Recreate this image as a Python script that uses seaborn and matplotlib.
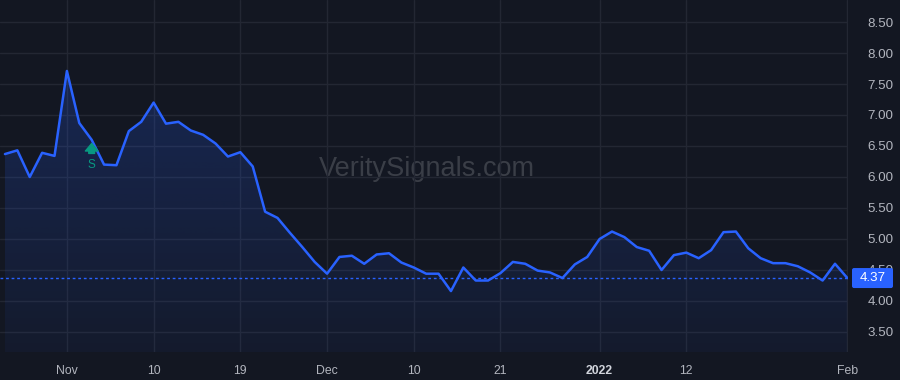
import numpy as np
import pandas as pd
import matplotlib
matplotlib.use("Agg")
import matplotlib.pyplot as plt
import matplotlib.patches as mpatches
from matplotlib.colors import to_rgb
import seaborn as sns

# trading-day closing values, Oct 25 2021 .. Feb 1 2022
prices = [6.37, 6.43, 6.00, 6.39, 6.34, 7.71, 6.87, 6.60, 6.20, 6.19,
          6.74, 6.89, 7.20, 6.86, 6.89, 6.75, 6.68, 6.54, 6.33, 6.40,
          6.17, 5.44, 5.34, 5.10, 4.87, 4.63, 4.44, 4.71, 4.73, 4.60,
          4.75, 4.77, 4.62, 4.54, 4.44, 4.44, 4.16, 4.54, 4.33, 4.33,
          4.45, 4.63, 4.60, 4.49, 4.46, 4.37, 4.59, 4.71, 5.00, 5.12,
          5.03, 4.87, 4.81, 4.50, 4.74, 4.78, 4.69, 4.82, 5.11, 5.12,
          4.85, 4.69, 4.61, 4.61, 4.56, 4.46, 4.33, 4.60, 4.37]
tick_idx = [5, 12, 19, 26, 33, 40, 48, 55, 68]
tick_labels = ["Nov", "10", "19", "Dec", "10", "21", "2022", "12", "Feb"]
y_ticks = [3.5, 4.0, 4.5, 5.0, 5.5, 6.0, 6.5, 7.0, 7.5, 8.0, 8.5]
signal_idx = 7
signal_label = "S"
last_price = prices[-1]

BG = "#131722"
GRID = "#232733"
LINE = "#2962FF"
TXT = "#b2b5be"

sns.set_theme(style="dark", rc={"axes.facecolor": BG, "figure.facecolor": BG})
plt.rcParams["font.family"] = ["Liberation Sans", "DejaVu Sans"]

df = pd.DataFrame({"idx": np.arange(len(prices)), "price": prices})

fig = plt.figure(figsize=(9, 3.8), dpi=100)
ax = fig.add_axes([0, 28 / 380, 848 / 900, 352 / 380])
ax.set_facecolor(BG)

XL = (-0.4, 68.05)
YL = (3.177, 8.855)
ax.set_xlim(*XL)
ax.set_ylim(*YL)

# gradient area fill under the line
poly = ax.fill_between(df["idx"], df["price"], YL[0], color="none", linewidth=0)
rgb = to_rgb(LINE)
ny = 256
grad = np.zeros((ny, 2, 4))
alphas = np.linspace(0.22, 0.05, ny)  # top -> bottom
grad[:, :, 0], grad[:, :, 1], grad[:, :, 2] = rgb
grad[:, :, 3] = alphas[:, None]
top = max(prices)
im = ax.imshow(grad, extent=[XL[0], XL[1], YL[0], top], aspect="auto", origin="upper", zorder=1)
clip = poly.get_paths()[0]
im.set_clip_path(clip, transform=ax.transData)

sns.lineplot(data=df, x="idx", y="price", ax=ax, color=LINE, linewidth=1.8, zorder=3)
ax.set_xlim(*XL)
ax.set_ylim(*YL)

ax.set_yticks(y_ticks)
ax.set_yticklabels([f"{v:.2f}" for v in y_ticks])
ax.yaxis.tick_right()
ax.set_xticks(tick_idx)
ax.set_xticklabels(tick_labels)
ax.tick_params(axis="y", length=0, colors=TXT, labelsize=9.6, pad=14)
ax.tick_params(axis="x", length=0, colors=TXT, labelsize=8.8, pad=9)
for lab in ax.get_xticklabels():
    if lab.get_text() == "2022":
        lab.set_fontweight("bold")
        lab.set_color("#d1d4dc")
ax.grid(True, color=GRID, linewidth=1)
ax.set_xlabel("")
ax.set_ylabel("")
for s in ax.spines.values():
    s.set_visible(False)
ax.axvline(XL[1], color="#2a2e39", linewidth=1, zorder=0)

# last price line and label
ax.axhline(last_price, color=LINE, linewidth=1, linestyle=(0, (2, 2)), zorder=2)
fig.canvas.draw()
px_y = ax.transData.transform((0, last_price))[1]
ax_right = ax.get_window_extent().x1
box = mpatches.FancyBboxPatch((ax_right + 4, px_y - 10), 41, 20,
                              boxstyle="round,pad=0,rounding_size=2",
                              transform=None, fc=LINE, ec="none", zorder=10)
fig.patches.append(box)
fig.text((ax_right + 24.5) / 900, px_y / 380, f"{last_price:.2f}", ha="center", va="center",
         color="white", fontsize=9.6, zorder=11)

# signal marker
sig_y = prices[signal_idx]
ax.annotate("", xy=(signal_idx, sig_y - 0.06), xytext=(signal_idx, sig_y - 0.22),
            arrowprops=dict(arrowstyle="simple,head_width=0.75,head_length=0.45,tail_width=0.35",
                            fc="#089981", ec="#089981", shrinkA=0, shrinkB=0), zorder=4)
ax.text(signal_idx, sig_y - 0.40, signal_label, color="#089981", fontsize=8.5,
        ha="center", va="center", zorder=4)

# watermark
ax.text(0.503, 0.52, "VeritySignals.com", transform=ax.transAxes, ha="center", va="center",
        fontsize=19.5, color="#ffffff", alpha=0.17, zorder=0,
        family=["Liberation Sans", "DejaVu Sans"])

fig.savefig("out.png", dpi=100, facecolor=BG)
